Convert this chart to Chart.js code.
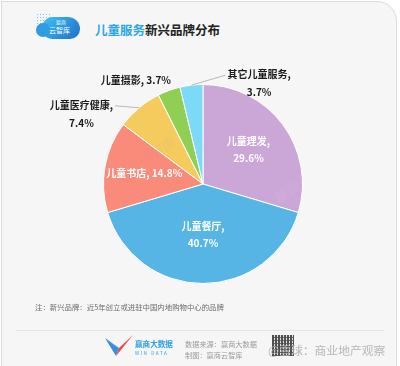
<!DOCTYPE html>
<html><head><meta charset="utf-8">
<script src="https://cdn.jsdelivr.net/npm/chart.js@4.4.1/dist/chart.umd.min.js"></script>
<style>
html,body{margin:0;padding:0;background:#fff;}
body{width:400px;height:366px;position:relative;overflow:hidden;font-family:"Noto Sans CJK SC","Noto Sans",sans-serif;}
#card{position:absolute;left:1px;top:1px;width:396px;height:370px;background:#f6f6f6;border:1px solid #dcdcdc;border-top-right-radius:20px;box-sizing:border-box;}
#title{position:absolute;left:95px;top:20px;font-size:12.5px;font-weight:bold;color:#222;white-space:nowrap;}
#title span{color:#2aa6e6;}
#logo{position:absolute;left:42px;top:17px;width:38px;height:22px;border-radius:11px 12px 10px 10px;background:linear-gradient(135deg,#3fc3f0,#1f6fc8);}
#logo:before{content:"";position:absolute;left:-6px;top:6px;width:14px;height:14px;border-radius:7px;background:#2f9be0;}
#logo .a{position:absolute;left:14px;top:1px;font-size:5px;color:#e8f6ff;}
#logo .b{position:absolute;left:7px;top:8px;font-size:7px;color:#fff;white-space:nowrap;}
.dots{position:absolute;left:36px;top:13px;width:16px;height:14px;background:radial-gradient(circle,#5ccff5 40%,transparent 45%) 0 0/3px 3px;}
#chartwrap{position:absolute;left:0;top:64px;width:400px;height:240px;}
#note{position:absolute;left:35px;top:301px;font-size:7.4px;color:#6b6b6b;white-space:nowrap;}
#sep{position:absolute;left:16px;top:330px;width:368px;height:1px;background:#e4e4e4;}
#wlogo{position:absolute;left:105px;top:335px;width:28px;height:22px;}
#wname{position:absolute;left:135px;top:338px;font-size:7.6px;color:#2a9fe0;font-weight:bold;white-space:nowrap;}
#wsub{position:absolute;left:135px;top:350px;font-size:4.6px;color:#2a9fe0;letter-spacing:1.6px;white-space:nowrap;}
#src{position:absolute;left:185px;top:339px;font-size:7.2px;color:#9a9a9a;line-height:11px;white-space:nowrap;}
#qr{position:absolute;left:272px;top:335px;width:22px;height:21px;background:
 repeating-linear-gradient(90deg,#333 0 2px,transparent 2px 3px),
 repeating-linear-gradient(0deg,#555 0 1px,#ddd 1px 3px);opacity:0.85;}
#wm{position:absolute;left:268px;top:341px;font-size:11.8px;color:#b0b0b0;white-space:nowrap;opacity:0.9;}
.pwm{position:absolute;font-size:14px;color:rgba(160,160,160,0.10);transform:rotate(-32deg);white-space:nowrap;}
</style></head>
<body>
<div id="card"></div>
<div class="dots"></div>
<div id="logo"><span class="a">赢商</span><span class="b">云智库</span></div>
<div id="title"><span>儿童服务</span>新兴品牌分布</div>
<div id="chartwrap"><canvas id="c"></canvas></div>
<div class="pwm" style="left:110px;top:148px;">赢商云智库</div>
<div class="pwm" style="left:270px;top:170px;color:rgba(255,255,255,0.07)">赢商云智库</div>
<div id="note">注：新兴品牌：近5年创立或进驻中国内地购物中心的品牌</div>
<div id="sep"></div>
<svg id="wlogo" viewBox="0 0 28 22"><polygon points="0,3 14,13 11,21" fill="#3a8ee0"/><polygon points="28,0 14,13 11,21" fill="#e84a4a"/><polygon points="4,6 14,13 9,10" fill="#7cc4f2"/></svg>
<div id="wname">赢商大数据</div>
<div id="wsub">WIN DATA</div>
<div id="src">数据来源：赢商大数据<br>制图：赢商云智库</div>
<div id="qr"></div>
<div id="wm">@雪球：商业地产观察</div>
<script>
const categories = ["儿童理发", "儿童餐厅", "儿童书店", "儿童医疗健康", "儿童摄影", "其它儿童服务"];
const shares = [29.6, 40.7, 14.8, 7.4, 3.7, 3.7];
const colors = ["#cba7d8", "#56b5e4", "#fa8b7b", "#f5cb5e", "#8fd054", "#7dd9f8"];

const labelLayout = [
  {mode: 'in', r: 0.57, split: true},
  {mode: 'in', r: 0.51, split: true},
  {mode: 'in', r: 0.6, split: false},
  {mode: 'out', side: 'left', lx: -24, ly: -2, split: true, leader: true},
  {mode: 'out', side: 'left', lx: 4, ly: -10, split: false, leader: false},
  {mode: 'out', side: 'right', lx: 34, ly: -10, split: true, leader: true}
];

const sliceLabels = {
  id: 'sliceLabels',
  afterDatasetsDraw(chart) {
    const ctx = chart.ctx;
    const meta = chart.getDatasetMeta(0);
    ctx.save();
    ctx.font = 'bold 10px "Noto Sans CJK SC", "Noto Sans", sans-serif';
    ctx.textBaseline = 'middle';
    meta.data.forEach((arc, i) => {
      const p = arc.getProps(['x', 'y', 'startAngle', 'endAngle', 'outerRadius'], true);
      const mid = (p.startAngle + p.endAngle) / 2;
      const cfg = labelLayout[i];
      const name = categories[i] + ',';
      const val = shares[i].toFixed(1) + '%';
      if (cfg.mode === 'in') {
        const cx = p.x + Math.cos(mid) * p.outerRadius * cfg.r;
        const cy = p.y + Math.sin(mid) * p.outerRadius * cfg.r;
        ctx.fillStyle = '#ffffff';
        ctx.textAlign = 'center';
        if (cfg.split) {
          ctx.fillText(name, cx, cy - 8.5);
          ctx.fillText(val, cx, cy + 8.5);
        } else {
          ctx.fillText(name + ' ' + val, cx, cy);
        }
      } else {
        const ax = p.x + Math.cos(mid) * p.outerRadius;
        const ay = p.y + Math.sin(mid) * p.outerRadius;
        const ex = ax + cfg.lx, ey = ay + cfg.ly;
        if (cfg.leader) {
          ctx.strokeStyle = '#a8a8a8';
          ctx.lineWidth = 0.8;
          ctx.beginPath();
          ctx.moveTo(ax, ay);
          ctx.lineTo(ex, ey);
          ctx.stroke();
        }
        ctx.fillStyle = '#1a1a1a';
        const text1 = cfg.split ? name : name + ' ' + val;
        const w = ctx.measureText(text1).width;
        let left;
        if (cfg.side === 'left') left = ex - 2 - w; else left = ex + 2;
        const ty = cfg.split ? ey - 1 : ey;
        ctx.textAlign = 'left';
        ctx.fillText(text1, left, ty);
        if (cfg.split) {
          ctx.textAlign = 'center';
          ctx.fillText(val, left + w / 2, ty + 18);
        }
      }
    });
    ctx.restore();
  }
};

new Chart(document.getElementById('c'), {
  type: 'pie',
  data: {
    labels: categories,
    datasets: [{
      data: shares,
      backgroundColor: colors,
      borderColor: '#ffffff',
      borderWidth: 1
    }]
  },
  options: {
    responsive: true,
    maintainAspectRatio: false,
    animation: false,
    layout: {padding: {top: 20, bottom: 20, left: 6, right: 0}},
    plugins: {legend: {display: false}, tooltip: {enabled: false}}
  },
  plugins: [sliceLabels]
});
</script>
</body></html>
